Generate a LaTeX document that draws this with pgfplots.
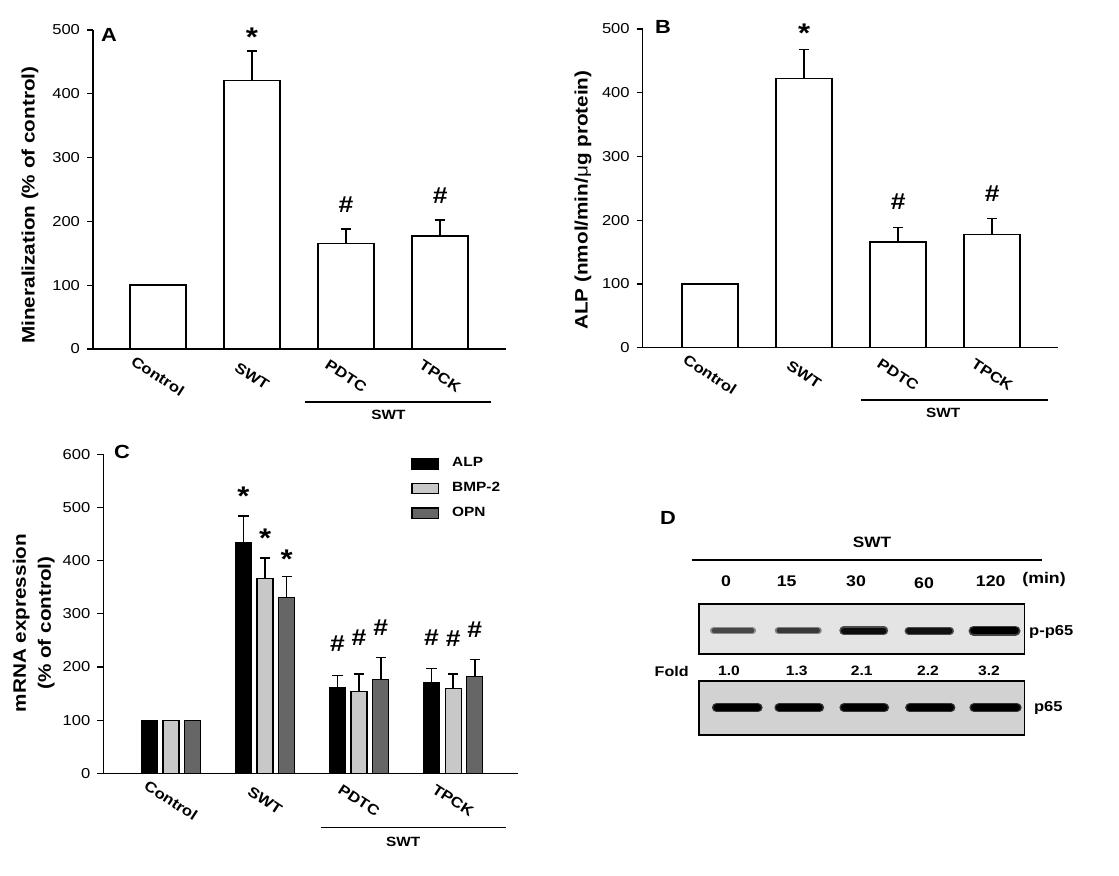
\documentclass[border=0pt]{standalone}
\usepackage{fontspec}
\setmainfont{Liberation Sans}[FakeStretch=1.15]
\usepackage{pgfplots}
\pgfplotsset{compat=1.18}
\definecolor{bmpgray}{HTML}{C8C8C8}
\definecolor{opngray}{HTML}{666666}
\definecolor{blottop}{HTML}{E4E4E4}
\definecolor{blotbot}{HTML}{D2D2D2}
\newcommand{\starfont}{\bfseries\fontsize{13.5}{14}\selectfont}
\newcommand{\hashfont}{\bfseries\fontsize{11.5}{13}\selectfont}
\pgfplotsset{
  panel/.style={
    scale only axis, clip=false,
    axis x line*=bottom, axis y line*=left,
    axis line style={-, line width=0.6pt, black},
    tick align=outside, major tick length=3pt,
    ytick style={line width=0.6pt, black},
    xtick style={draw=none},
    xtick={0,1,2,3}, xticklabels={Control,SWT,PDTC,TPCK},
    xticklabel style={font=\bfseries\fontsize{7.3}{8}\selectfont, anchor=center, yshift=-10.5pt, rotate=-33},
    yticklabel style={font=\fontsize{7.2}{8}\selectfont},
    /pgf/number format/assume math mode=true,
    ymin=0,
  },
  barerr/.style={
    error bars/.cd, y dir=plus, y explicit,
    error bar style={line width=0.7pt, draw=black},
    error mark options={rotate=90, mark size=2.6pt, line width=0.7pt, draw=black},
  },
  boxlegend/.style={legend image code/.code={\draw[##1, line width=0.6pt] (0pt,-2.6pt) rectangle (13.3pt,2.6pt);}},
}
\begin{document}
\begin{tikzpicture}
\useasboundingbox (0,0) rectangle (559.5pt,438pt);
% ---------------- Panel A ----------------
\begin{axis}[panel, at={(46.5pt,263.5pt)}, anchor=south west,
  width=206.5pt, height=159.5pt, xmin=-0.69, xmax=3.70, ymax=500,
  ytick={0,100,200,300,400,500},
  ylabel={Mineralization (\% of control)},
  every axis y label/.style={at={(axis description cs:-0.1525,0.451)}, rotate=90, anchor=center, font=\bfseries\fontsize{9}{10}\selectfont}]
\addplot[ybar, bar width=28pt, bar shift=0pt, fill=white, draw=black, line width=0.7pt, barerr]
  coordinates {(0,100) +- (0,0) (1,421) +- (0,46) (2,165) +- (0,23) (3,177) +- (0,25)};
\node[font=\bfseries\fontsize{9.5}{10}\selectfont] at (axis cs:-0.52,492) {A};
\node[font=\starfont] at (axis cs:1,489) {*};
\node[font=\hashfont] at (axis cs:2,226) {\#};
\node[font=\hashfont] at (axis cs:3,240) {\#};
\draw[line width=0.6pt] (axis cs:1.56,-83) -- (axis cs:3.54,-83);
\node[font=\bfseries\fontsize{6.7}{8}\selectfont] at (axis cs:2.45,-103.5) {SWT};
\end{axis}
% ---------------- Panel B ----------------
\begin{axis}[panel, at={(321.35pt,264.15pt)}, anchor=south west,
  width=207.65pt, height=159.35pt, xmin=-0.716, xmax=3.70, ymax=500,
  ytick={0,100,200,300,400,500},
  ylabel={ALP (nmol/min/{\mdseries μ}g protein)},
  every axis y label/.style={at={(axis description cs:-0.1437,0.463)}, rotate=90, anchor=center, font=\bfseries\fontsize{9}{10}\selectfont}]
\addplot[ybar, bar width=28pt, bar shift=0pt, fill=white, draw=black, line width=0.7pt, barerr]
  coordinates {(0,100) +- (0,0) (1,422) +- (0,46) (2,166) +- (0,23) (3,178) +- (0,25)};
\node[font=\bfseries\fontsize{9.5}{10}\selectfont] at (axis cs:-0.5,503) {B};
\node[font=\starfont] at (axis cs:1,493) {*};
\node[font=\hashfont] at (axis cs:2,229) {\#};
\node[font=\hashfont] at (axis cs:3,242) {\#};
\draw[line width=0.6pt] (axis cs:1.61,-82) -- (axis cs:3.59,-82);
\node[font=\bfseries\fontsize{6.7}{8}\selectfont] at (axis cs:2.48,-103) {SWT};
\end{axis}
% ---------------- Panel C ----------------
\begin{axis}[panel, at={(51.65pt,51.35pt)}, anchor=south west,
  width=207.35pt, height=159.5pt, xmin=-0.72, xmax=3.69, ymax=600,
  ytick={0,100,200,300,400,500,600},
  ylabel={mRNA expression\\(\% of control)},
  every axis y label/.style={at={(axis description cs:-0.168,0.471)}, rotate=90, anchor=center, align=center, font=\bfseries\fontsize{9}{12.5}\selectfont},
  legend style={at={(axis description cs:0.742,0.997)}, anchor=north west, draw=none, fill=none,
    font=\bfseries\fontsize{6.7}{8}\selectfont, row sep=4.2pt, column sep=5.5pt, inner sep=0pt,
    nodes={inner sep=1pt}},
  legend cell align=left]
\addplot[ybar, bar width=8pt, bar shift=-10.85pt, fill=black, draw=black, line width=0.6pt, boxlegend]
  coordinates {(0,100) (1,433) (2,162) (3,170)};
\addplot[ybar, bar width=8pt, bar shift=0pt, fill=bmpgray, draw=black, line width=0.6pt, boxlegend]
  coordinates {(0,100) (1,366) (2,154) (3,159)};
\addplot[ybar, bar width=8pt, bar shift=10.85pt, fill=opngray, draw=black, line width=0.6pt, boxlegend]
  coordinates {(0,100) (1,331) (2,177) (3,182)};
\legend{ALP,BMP-2,OPN}
% error bars (upper side) at the bar positions: ALP, BMP-2, OPN
\addplot[draw=none, mark=none, forget plot, barerr]
  coordinates {(0.769,433) +- (0,51) (1.769,162) +- (0,22) (2.769,170) +- (0,27)};
\addplot[draw=none, mark=none, forget plot, barerr]
  coordinates {(1,366) +- (0,39) (2,154) +- (0,33) (3,159) +- (0,28)};
\addplot[draw=none, mark=none, forget plot, barerr]
  coordinates {(1.231,331) +- (0,39) (2.231,177) +- (0,41) (3.231,182) +- (0,32)};
\node[font=\bfseries\fontsize{9.5}{10}\selectfont] at (axis cs:-0.52,604) {C};
\node[font=\starfont] at (axis cs:0.769,522) {*};
\node[font=\starfont] at (axis cs:1,442) {*};
\node[font=\starfont] at (axis cs:1.231,402) {*};
\node[font=\hashfont] at (axis cs:1.769,244) {\#};
\node[font=\hashfont] at (axis cs:2,255) {\#};
\node[font=\hashfont] at (axis cs:2.231,274) {\#};
\node[font=\hashfont] at (axis cs:2.769,255) {\#};
\node[font=\hashfont] at (axis cs:3,253) {\#};
\node[font=\hashfont] at (axis cs:3.231,270) {\#};
\draw[line width=0.6pt] (axis cs:1.59,-101.6) -- (axis cs:3.56,-101.6);
\node[font=\bfseries\fontsize{6.7}{8}\selectfont] at (axis cs:2.47,-128.6) {SWT};
\end{axis}
% ---------------- Panel D ----------------
\begin{axis}[scale only axis, hide axis, clip=false, at={(310pt,0pt)}, anchor=south west,
  width=249.5pt, height=198pt, xmin=620, xmax=1119, ymin=480, ymax=876, y dir=reverse]
\node[font=\bfseries\fontsize{9.5}{10}\selectfont] at (axis cs:668,518) {D};
\node[font=\bfseries\fontsize{7.5}{9}\selectfont] at (axis cs:872,542) {SWT};
\draw[line width=0.7pt] (axis cs:691.7,560) -- (axis cs:1041.7,560);
\node[font=\bfseries\fontsize{7.7}{9}\selectfont] at (axis cs:726,581) {0};
\node[font=\bfseries\fontsize{7.7}{9}\selectfont] at (axis cs:786.7,581) {15};
\node[font=\bfseries\fontsize{7.7}{9}\selectfont] at (axis cs:856,581) {30};
\node[font=\bfseries\fontsize{7.7}{9}\selectfont] at (axis cs:924,583) {60};
\node[font=\bfseries\fontsize{7.7}{9}\selectfont] at (axis cs:990.7,581) {120};
\node[font=\bfseries\fontsize{7.7}{9}\selectfont] at (axis cs:1044,580) {(min)};
% blots
\draw[fill=blottop, line width=0.8pt] (axis cs:699,604) rectangle (axis cs:1024.3,654);
\draw[fill=blotbot, line width=0.8pt] (axis cs:699,681.3) rectangle (axis cs:1024.3,735);
% p-p65 bands (darkness follows fold change)
\addplot[line width=3.6pt, line cap=round, color=black!45] coordinates {(713.5,630.7) (752.5,630.7)};
\addplot[line width=2.2pt, line cap=round, color=black!72] coordinates {(714,630.7) (752,630.7)};
\addplot[line width=3.8pt, line cap=round, color=black!50] coordinates {(778.5,630.7) (818,630.7)};
\addplot[line width=2.4pt, line cap=round, color=black!78] coordinates {(779,630.7) (817.5,630.7)};
\addplot[line width=4.2pt, line cap=round, color=black!70] coordinates {(843.5,630.7) (884,630.7)};
\addplot[line width=3.0pt, line cap=round, color=black!95] coordinates {(844,630.7) (883.5,630.7)};
\addplot[line width=4.0pt, line cap=round, color=black!70] coordinates {(908.5,630.7) (950,630.7)};
\addplot[line width=2.9pt, line cap=round, color=black!93] coordinates {(909,630.7) (949.5,630.7)};
\addplot[line width=5.0pt, line cap=round, color=black!75] coordinates {(973.5,630.7) (1015.5,630.7)};
\addplot[line width=3.8pt, line cap=round, color=black] coordinates {(974,630.7) (1015,630.7)};
% p65 bands
\addplot[line width=4.6pt, line cap=round, color=black!80] coordinates {(716.5,707.7) (758,707.7)};
\addplot[line width=3.6pt, line cap=round, color=black] coordinates {(717,707.7) (757.5,707.7)};
\addplot[line width=4.6pt, line cap=round, color=black!80] coordinates {(779,707.7) (819.5,707.7)};
\addplot[line width=3.6pt, line cap=round, color=black] coordinates {(779.5,707.7) (819,707.7)};
\addplot[line width=4.6pt, line cap=round, color=black!80] coordinates {(844,707.7) (884.5,707.7)};
\addplot[line width=3.6pt, line cap=round, color=black] coordinates {(844.5,707.7) (884,707.7)};
\addplot[line width=4.4pt, line cap=round, color=black!80] coordinates {(909.5,707.7) (951,707.7)};
\addplot[line width=3.4pt, line cap=round, color=black] coordinates {(910,707.7) (950.5,707.7)};
\addplot[line width=4.6pt, line cap=round, color=black!80] coordinates {(974,707.7) (1017,707.7)};
\addplot[line width=3.6pt, line cap=round, color=black] coordinates {(974.5,707.7) (1016.5,707.7)};
\node[font=\bfseries\fontsize{7.2}{9}\selectfont] at (axis cs:1051.3,632) {p-p65};
\node[font=\bfseries\fontsize{7.2}{9}\selectfont] at (axis cs:1048.3,707.7) {p65};
\node[font=\bfseries\fontsize{7}{9}\selectfont] at (axis cs:671.7,672) {Fold};
\node[font=\bfseries\fontsize{6.8}{9}\selectfont] at (axis cs:729,670.7) {1.0};
\node[font=\bfseries\fontsize{6.8}{9}\selectfont] at (axis cs:796.7,670.7) {1.3};
\node[font=\bfseries\fontsize{6.8}{9}\selectfont] at (axis cs:861.7,670.7) {2.1};
\node[font=\bfseries\fontsize{6.8}{9}\selectfont] at (axis cs:928,670.7) {2.2};
\node[font=\bfseries\fontsize{6.8}{9}\selectfont] at (axis cs:989,670.7) {3.2};
\end{axis}
\end{tikzpicture}
\end{document}
